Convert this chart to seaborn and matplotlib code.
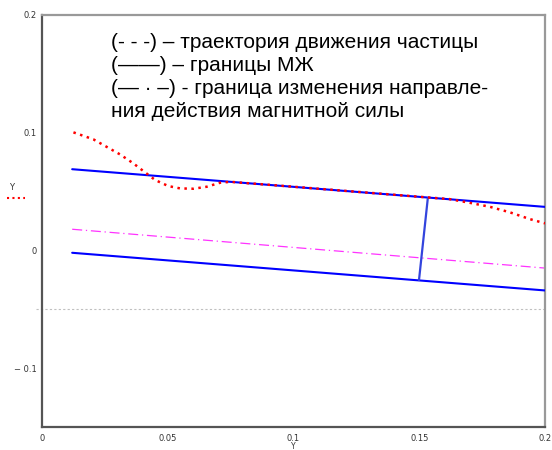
"""Particle trajectory inside the magnetic fluid boundaries (Mathcad style)."""
import matplotlib

matplotlib.use("Agg")

import matplotlib.pyplot as plt
from matplotlib.lines import Line2D
import seaborn as sns

# particle trajectory (red dotted)
traj_x = [0.0125, 0.0204, 0.0257, 0.031, 0.0363, 0.041, 0.045, 0.0502, 0.0549,
          0.0602, 0.0655, 0.0708, 0.075, 0.08, 0.09, 0.10, 0.11, 0.12, 0.13,
          0.14, 0.15, 0.162, 0.170, 0.178, 0.186, 0.194, 0.2]
traj_y = [0.1003, 0.0944, 0.088, 0.0816, 0.074, 0.0663, 0.0598, 0.0547, 0.0527,
          0.0524, 0.0541, 0.0575, 0.0583, 0.0574, 0.0558, 0.0541, 0.0524, 0.0507,
          0.0490, 0.0473, 0.0456, 0.0436, 0.0405, 0.0371, 0.0324, 0.0266, 0.023]

# boundaries of the magnetic fluid (blue)
upper_x = [0.012, 0.2]
upper_y = [0.069, 0.037]
lower_x = [0.012, 0.2]
lower_y = [-0.002, -0.034]
cross_x = [0.1534, 0.1499]
cross_y = [0.0443, -0.0252]

# boundary where the magnetic force changes direction (magenta dash-dot)
mid_x = [0.012, 0.2]
mid_y = [0.018, -0.015]

ref_level = -0.05

x_ticks = [0, 0.05, 0.1, 0.15, 0.2]
x_tick_labels = ["0", "0.05", "0.1", "0.15", "0.2"]
y_ticks = [-0.1, 0, 0.1, 0.2]
y_tick_labels = ["\u2212 0.1", "0", "0.1", "0.2"]

note_lines = [
    "(- - -) \u2013 траектория движения частицы",
    "(\u2014\u2014) \u2013 границы МЖ",
    "(\u2014 \u00b7 \u2013) - граница изменения направле-",
    "ния действия магнитной силы",
]

sns.set_theme(style="white")
plt.rcParams["font.family"] = ["DejaVu Sans"]

fig = plt.figure(figsize=(5.52, 4.5), dpi=100)
ax = fig.add_axes([42 / 552, 23 / 450, 503 / 552, 412 / 450])

ax.axhline(ref_level, xmin=-0.012, xmax=1, color="#c0c0c0", lw=0.8,
           linestyle=(0, (2, 2)), clip_on=False, zorder=1)

sns.lineplot(x=mid_x, y=mid_y, ax=ax, color="#ff33ff", lw=0.9,
             linestyle=(0, (8, 3, 1, 3)), zorder=2)
sns.lineplot(x=upper_x, y=upper_y, ax=ax, color="#0000ff", lw=1.5, zorder=3)
sns.lineplot(x=lower_x, y=lower_y, ax=ax, color="#0000ff", lw=1.5, zorder=3)
sns.lineplot(x=cross_x, y=cross_y, ax=ax, color="#3344dd", lw=1.6,
             sort=False, zorder=3)
sns.lineplot(x=traj_x, y=traj_y, ax=ax, color="#ff0000", lw=1.8,
             linestyle=(0, (1, 1.8)), zorder=4)

ax.set_xlim(0, 0.2)
ax.set_ylim(-0.15, 0.2)
ax.set_xticks(x_ticks)
ax.set_xticklabels(x_tick_labels)
ax.set_yticks(y_ticks)
ax.set_yticklabels(y_tick_labels)
ax.tick_params(axis="both", labelsize=6, colors="#333333", length=4,
               width=0.8, direction="inout", pad=2)
ax.tick_params(axis="x", pad=3)

for side in ["left", "bottom"]:
    ax.spines[side].set_color("#555555")
    ax.spines[side].set_linewidth(1.6)
for side in ["top", "right"]:
    ax.spines[side].set_color("#999999")
    ax.spines[side].set_linewidth(1.6)

ax.set_xlabel("Y", fontsize=5.5, color="#333333")
ax.xaxis.set_label_coords(0.5, -0.037)
ax.set_ylabel("")

# mathcad style legend at left
fig.text(12 / 552, 1 - 188 / 450, "Y", fontsize=6, color="#333333",
         ha="center", va="center")
fig.add_artist(Line2D([7 / 552, 25 / 552], [1 - 198 / 450, 1 - 198 / 450],
                      color="#ff0000", lw=1.5, linestyle=(0, (1, 1.6))))

for i, line in enumerate(note_lines):
    fig.text(111 / 552, 1 - (43 + i * 22.7) / 450, line, fontsize=15.0,
             family="Liberation Sans", color="black", ha="left", va="center")

fig.savefig("out.png", dpi=100)
plt.close(fig)
